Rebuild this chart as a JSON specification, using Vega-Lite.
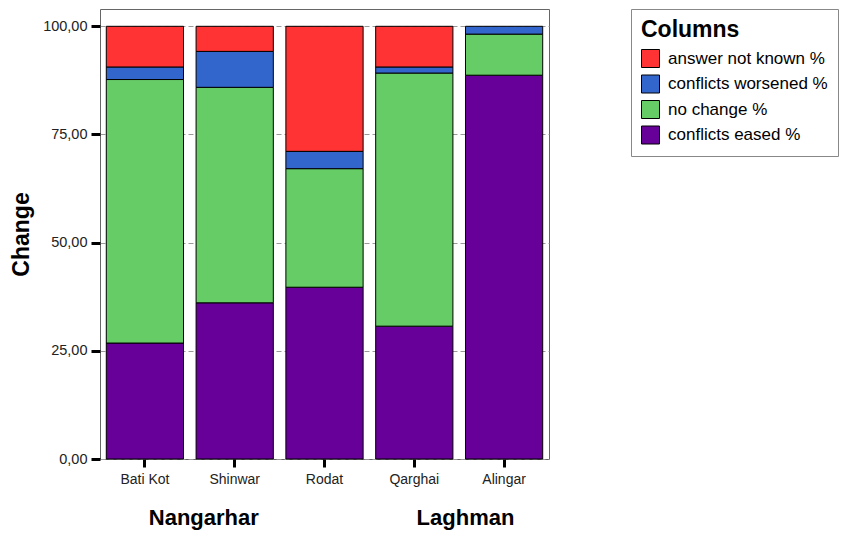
{
  "$schema": "https://vega.github.io/schema/vega-lite/v6.json",
  "width": 449,
  "height": 450,
  "autosize": {"type": "none"},
  "padding": {"left": 100, "top": 9, "right": 299, "bottom": 75},
  "config": {"view": {"stroke": "#666", "strokeWidth": 1}, "font": "Liberation Sans"},
  "layer": [
    {
      "data": {"values": [
        {"district": "Bati Kot", "category": "conflicts eased %", "value": 26.8},
        {"district": "Bati Kot", "category": "no change %", "value": 60.9},
        {"district": "Bati Kot", "category": "conflicts worsened %", "value": 2.9},
        {"district": "Bati Kot", "category": "answer not known %", "value": 9.4},
        {"district": "Shinwar", "category": "conflicts eased %", "value": 36.1},
        {"district": "Shinwar", "category": "no change %", "value": 49.8},
        {"district": "Shinwar", "category": "conflicts worsened %", "value": 8.3},
        {"district": "Shinwar", "category": "answer not known %", "value": 5.8},
        {"district": "Rodat", "category": "conflicts eased %", "value": 39.7},
        {"district": "Rodat", "category": "no change %", "value": 27.4},
        {"district": "Rodat", "category": "conflicts worsened %", "value": 4.0},
        {"district": "Rodat", "category": "answer not known %", "value": 28.9},
        {"district": "Qarghai", "category": "conflicts eased %", "value": 30.7},
        {"district": "Qarghai", "category": "no change %", "value": 58.5},
        {"district": "Qarghai", "category": "conflicts worsened %", "value": 1.4},
        {"district": "Qarghai", "category": "answer not known %", "value": 9.4},
        {"district": "Alingar", "category": "conflicts eased %", "value": 88.7},
        {"district": "Alingar", "category": "no change %", "value": 9.5},
        {"district": "Alingar", "category": "conflicts worsened %", "value": 1.8}
      ]},
      "transform": [
        {"calculate": "indexof(['conflicts eased %','no change %','conflicts worsened %','answer not known %'], datum.category)", "as": "stackOrder"}
      ],
      "mark": {"type": "bar", "stroke": "black", "strokeWidth": 1},
      "encoding": {
        "x": {
          "field": "district", "type": "nominal",
          "sort": ["Bati Kot", "Shinwar", "Rodat", "Qarghai", "Alingar"],
          "scale": {"paddingInner": 0.14, "paddingOuter": 0.07},
          "axis": {"title": null, "labelAngle": 0, "labelFontSize": 14, "labelColor": "#222", "tickColor": "black", "tickWidth": 3, "tickSize": 8, "labelPadding": 5, "domain": false}
        },
        "y": {
          "field": "value", "type": "quantitative", "stack": "zero",
          "scale": {"domain": [0, 104], "nice": false},
          "axis": {"title": "Change", "titleFontSize": 23, "titleFontWeight": "bold", "titleColor": "black", "titlePadding": 9,
                   "values": [0, 25, 50, 75, 100], "labelExpr": "replace(format(datum.value, '.2f'), '.', ',')",
                   "labelFontSize": 14.5, "labelColor": "#222", "tickColor": "black", "tickWidth": 3, "tickSize": 9, "labelPadding": 4,
                   "domain": false, "grid": true, "gridDash": [5, 3], "gridColor": "#999", "gridWidth": 1}
        },
        "color": {
          "field": "category", "type": "nominal",
          "scale": {"domain": ["answer not known %", "conflicts worsened %", "no change %", "conflicts eased %"],
                    "range": ["#ff3333", "#3366cc", "#66cc66", "#660099"]},
          "legend": {"title": "Columns", "orient": "none", "legendX": 531, "legendY": 0, "padding": 10,
                     "strokeColor": "#888", "fillColor": "white", "titleFontSize": 23, "titleFontWeight": "bold", "titleColor": "black",
                     "labelFontSize": 17, "labelColor": "black", "symbolType": "square", "symbolSize": 324,
                     "symbolStrokeColor": "black", "symbolStrokeWidth": 1, "rowPadding": 2.5, "labelOffset": 8, "titlePadding": 7}
        },
        "order": {"field": "stackOrder", "type": "quantitative", "sort": "ascending"}
      }
    },
    {
      "data": {"values": [{"district": "Shinwar", "label": "Nangarhar"}]},
      "mark": {"type": "text", "fontSize": 22, "fontWeight": "bold", "dy": 66, "baseline": "alphabetic", "align": "center", "color": "black"},
      "encoding": {
        "x": {"field": "district", "type": "nominal", "sort": ["Bati Kot", "Shinwar", "Rodat", "Qarghai", "Alingar"], "bandPosition": 0.1},
        "y": {"datum": 0},
        "text": {"field": "label"}
      }
    },
    {
      "data": {"values": [{"district": "Alingar", "label": "Laghman"}]},
      "mark": {"type": "text", "fontSize": 22, "fontWeight": "bold", "dy": 66, "baseline": "alphabetic", "align": "center", "color": "black"},
      "encoding": {
        "x": {"field": "district", "type": "nominal", "sort": ["Bati Kot", "Shinwar", "Rodat", "Qarghai", "Alingar"], "bandPosition": 0},
        "y": {"datum": 0},
        "text": {"field": "label"}
      }
    }
  ]
}
